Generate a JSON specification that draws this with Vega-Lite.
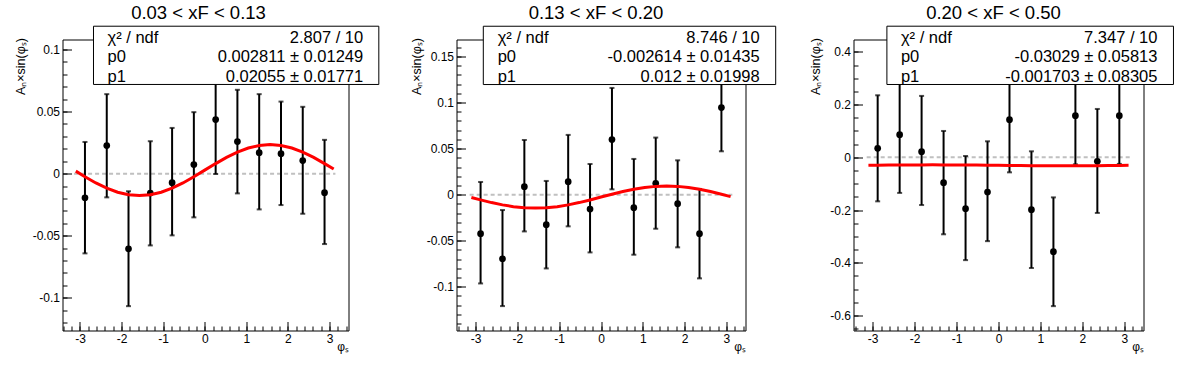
{
  "$schema": "https://vega.github.io/schema/vega-lite/v6.json",
  "background": "white",
  "padding": {"left": 13.5, "top": 3.5, "right": 5, "bottom": 5},
  "bounds": "flush",
  "spacing": 108,
  "config": {
    "font": "Liberation Sans",
    "view": {"stroke": "black", "strokeWidth": 1},
    "axis": {"domain": false, "grid": false, "labelFont": "Liberation Sans", "labelFontSize": 12, "labelColor": "black", "tickColor": "black", "titleFont": "Liberation Sans", "titleFontWeight": "normal", "titleColor": "black"},
    "title": {"font": "Liberation Sans", "fontSize": 18.5, "fontWeight": "normal", "color": "black", "anchor": "middle", "frame": "group", "baseline": "alphabetic", "offset": 3}
  },
  "datasets": {
    "p1": [
      {"phi": -2.880, "a": -0.0194, "lo": -0.0642, "hi": 0.0255},
      {"phi": -2.356, "a": 0.0226, "lo": -0.0191, "hi": 0.0640},
      {"phi": -1.833, "a": -0.0605, "lo": -0.1067, "hi": -0.0142},
      {"phi": -1.309, "a": -0.0156, "lo": -0.0578, "hi": 0.0261},
      {"phi": -0.785, "a": -0.0073, "lo": -0.0497, "hi": 0.0368},
      {"phi": -0.262, "a": 0.0073, "lo": -0.0352, "hi": 0.0495},
      {"phi": 0.262, "a": 0.0435, "lo": -0.0003, "hi": 0.0873},
      {"phi": 0.785, "a": 0.0258, "lo": -0.0159, "hi": 0.0675},
      {"phi": 1.309, "a": 0.0169, "lo": -0.0288, "hi": 0.0640},
      {"phi": 1.833, "a": 0.0161, "lo": -0.0253, "hi": 0.0580},
      {"phi": 2.356, "a": 0.0105, "lo": -0.0323, "hi": 0.0538},
      {"phi": 2.880, "a": -0.0153, "lo": -0.0567, "hi": 0.0272}
    ],
    "p2": [
      {"phi": -2.880, "a": -0.0424, "lo": -0.0964, "hi": 0.0138},
      {"phi": -2.356, "a": -0.0696, "lo": -0.1210, "hi": -0.0167},
      {"phi": -1.833, "a": 0.0087, "lo": -0.0399, "hi": 0.0594},
      {"phi": -1.309, "a": -0.0326, "lo": -0.0801, "hi": 0.0149},
      {"phi": -0.785, "a": 0.0141, "lo": -0.0344, "hi": 0.0649},
      {"phi": -0.262, "a": -0.0156, "lo": -0.0627, "hi": 0.0333},
      {"phi": 0.262, "a": 0.0598, "lo": 0.0058, "hi": 0.1159},
      {"phi": 0.785, "a": -0.0141, "lo": -0.0652, "hi": 0.0388},
      {"phi": 1.309, "a": 0.0123, "lo": -0.0370, "hi": 0.0620},
      {"phi": 1.833, "a": -0.0098, "lo": -0.0572, "hi": 0.0373},
      {"phi": 2.356, "a": -0.0424, "lo": -0.0909, "hi": 0.0062},
      {"phi": 2.880, "a": 0.0946, "lo": 0.0471, "hi": 0.1421}
    ],
    "p3": [
      {"phi": -2.880, "a": 0.0342, "lo": -0.1670, "hi": 0.2354},
      {"phi": -2.356, "a": 0.0861, "lo": -0.1350, "hi": 0.3070},
      {"phi": -1.833, "a": 0.0215, "lo": -0.1810, "hi": 0.2330},
      {"phi": -1.309, "a": -0.0962, "lo": -0.2920, "hi": 0.1000},
      {"phi": -0.785, "a": -0.1950, "lo": -0.3900, "hi": 0.0050},
      {"phi": -0.262, "a": -0.1316, "lo": -0.3180, "hi": 0.0608},
      {"phi": 0.262, "a": 0.1430, "lo": -0.0570, "hi": 0.3430},
      {"phi": 0.785, "a": -0.1987, "lo": -0.4200, "hi": 0.0228},
      {"phi": 1.309, "a": -0.3580, "lo": -0.5646, "hi": -0.1520},
      {"phi": 1.833, "a": 0.1580, "lo": -0.0266, "hi": 0.3430},
      {"phi": 2.356, "a": -0.0152, "lo": -0.2110, "hi": 0.1835},
      {"phi": 2.880, "a": 0.1580, "lo": -0.0250, "hi": 0.3410}
    ],
    "c1": [
      {"phi": -3.1, "fit": 0.0020}, {"phi": -2.88, "fit": -0.0025}, {"phi": -2.618, "fit": -0.0075}, {"phi": -2.356, "fit": -0.0117}, {"phi": -2.094, "fit": -0.0150},
      {"phi": -1.833, "fit": -0.0170}, {"phi": -1.571, "fit": -0.0177}, {"phi": -1.309, "fit": -0.0170}, {"phi": -1.047, "fit": -0.0150}, {"phi": -0.785, "fit": -0.0117},
      {"phi": -0.524, "fit": -0.0075}, {"phi": -0.262, "fit": -0.0025}, {"phi": 0, "fit": 0.0028}, {"phi": 0.262, "fit": 0.0081}, {"phi": 0.524, "fit": 0.0131},
      {"phi": 0.785, "fit": 0.0173}, {"phi": 1.047, "fit": 0.0206}, {"phi": 1.309, "fit": 0.0227}, {"phi": 1.571, "fit": 0.0234}, {"phi": 1.833, "fit": 0.0227},
      {"phi": 2.094, "fit": 0.0206}, {"phi": 2.356, "fit": 0.0173}, {"phi": 2.618, "fit": 0.0131}, {"phi": 2.88, "fit": 0.0081}, {"phi": 3.1, "fit": 0.0037}
    ],
    "c2": [
      {"phi": -3.1, "fit": -0.0031}, {"phi": -2.88, "fit": -0.0057}, {"phi": -2.618, "fit": -0.0086}, {"phi": -2.356, "fit": -0.0111}, {"phi": -2.094, "fit": -0.0130},
      {"phi": -1.833, "fit": -0.0142}, {"phi": -1.571, "fit": -0.0146}, {"phi": -1.309, "fit": -0.0142}, {"phi": -1.047, "fit": -0.0130}, {"phi": -0.785, "fit": -0.0111},
      {"phi": -0.524, "fit": -0.0086}, {"phi": -0.262, "fit": -0.0057}, {"phi": 0, "fit": -0.0026}, {"phi": 0.262, "fit": 0.0005}, {"phi": 0.524, "fit": 0.0034},
      {"phi": 0.785, "fit": 0.0059}, {"phi": 1.047, "fit": 0.0078}, {"phi": 1.309, "fit": 0.0090}, {"phi": 1.571, "fit": 0.0094}, {"phi": 1.833, "fit": 0.0090},
      {"phi": 2.094, "fit": 0.0078}, {"phi": 2.356, "fit": 0.0059}, {"phi": 2.618, "fit": 0.0034}, {"phi": 2.88, "fit": 0.0005}, {"phi": 3.1, "fit": -0.0021}
    ],
    "c3": [
      {"phi": -3.1, "fit": -0.0302}, {"phi": -2.88, "fit": -0.0299}, {"phi": -2.618, "fit": -0.0294}, {"phi": -2.356, "fit": -0.0291}, {"phi": -2.094, "fit": -0.0288},
      {"phi": -1.833, "fit": -0.0287}, {"phi": -1.571, "fit": -0.0286}, {"phi": -1.309, "fit": -0.0287}, {"phi": -1.047, "fit": -0.0288}, {"phi": -0.785, "fit": -0.0291},
      {"phi": -0.524, "fit": -0.0294}, {"phi": -0.262, "fit": -0.0299}, {"phi": 0, "fit": -0.0303}, {"phi": 0.262, "fit": -0.0307}, {"phi": 0.524, "fit": -0.0311},
      {"phi": 0.785, "fit": -0.0315}, {"phi": 1.047, "fit": -0.0318}, {"phi": 1.309, "fit": -0.0319}, {"phi": 1.571, "fit": -0.0320}, {"phi": 1.833, "fit": -0.0319},
      {"phi": 2.094, "fit": -0.0318}, {"phi": 2.356, "fit": -0.0315}, {"phi": 2.618, "fit": -0.0311}, {"phi": 2.88, "fit": -0.0307}, {"phi": 3.1, "fit": -0.0304}
    ]
  },
  "hconcat": [
    {
      "width": 286, "height": 291,
      "title": {"text": "0.03 < xF < 0.13", "dx": -7},
      "resolve": {"axis": {"x": "independent", "y": "independent"}},
      "layer": [
        {"data": {"values": [{}]}, "mark": {"type": "rule", "color": "#c0c0c0", "strokeWidth": 2, "strokeDash": [4, 3]},
         "encoding": {"x": {"datum": -3.1416, "type": "quantitative", "axis": null}, "x2": {"datum": 3.1416}, "y": {"datum": 0, "type": "quantitative", "axis": null}}},
        {"data": {"name": "p1"}, "mark": {"type": "rule", "color": "black", "strokeWidth": 2},
         "encoding": {
           "x": {"field": "phi", "type": "quantitative", "scale": {"domain": [-3.42, 3.456], "nice": false, "zero": false},
                 "axis": {"orient": "bottom", "values": [-3.4,-3.2,-3,-2.8,-2.6,-2.4,-2.2,-2,-1.8,-1.6,-1.4,-1.2,-1,-0.8,-0.6,-0.4,-0.2,0,0.2,0.4,0.6,0.8,1,1.2,1.4,1.6,1.8,2,2.2,2.4,2.6,2.8,3,3.2,3.4], "labels": false, "tickSize": -4.5, "title": null}},
           "y": {"field": "lo", "type": "quantitative", "scale": {"domain": [-0.1263, 0.108], "nice": false, "zero": false},
                 "axis": {"orient": "left", "values": [-0.12,-0.11,-0.1,-0.09,-0.08,-0.07,-0.06,-0.05,-0.04,-0.03,-0.02,-0.01,0,0.01,0.02,0.03,0.04,0.05,0.06,0.07,0.08,0.09,0.1], "labels": false, "tickSize": -4.5, "title": null}},
           "y2": {"field": "hi"}}},
        {"data": {"name": "p1"}, "mark": {"type": "tick", "orient": "horizontal", "size": 5, "thickness": 2, "color": "black"},
         "encoding": {
           "x": {"field": "phi", "type": "quantitative", "axis": {"orient": "bottom", "values": [-3,-2,-1,0,1,2,3], "labels": false, "tickSize": -9, "title": null}},
           "y": {"field": "lo", "type": "quantitative", "axis": {"orient": "left", "values": [-0.1,-0.05,0,0.05,0.1], "labels": false, "tickSize": -9, "title": null}}}},
        {"data": {"name": "p1"}, "mark": {"type": "tick", "orient": "horizontal", "size": 5, "thickness": 2, "color": "black"},
         "encoding": {"x": {"field": "phi", "type": "quantitative", "axis": null}, "y": {"field": "hi", "type": "quantitative", "axis": null}}},
        {"data": {"name": "p1"}, "mark": {"type": "point", "filled": true, "shape": "circle", "size": 45, "color": "black", "opacity": 1},
         "encoding": {
           "x": {"field": "phi", "type": "quantitative", "axis": {"orient": "bottom", "values": [-3,-2,-1,0,1,2,3], "ticks": false, "labelPadding": 3, "labelExpr": "replace(format(datum.value, '~g'), '\u2212', '-')", "title": "φₛ", "titleFontSize": 12, "titleAnchor": "end", "titleAlign": "right", "titleBaseline": "alphabetic", "titleY": 20}},
           "y": {"field": "a", "type": "quantitative", "axis": {"orient": "left", "values": [-0.1,-0.05,0,0.05,0.1], "ticks": false, "labelPadding": 3, "labelExpr": "replace(format(datum.value, '~g'), '\u2212', '-')", "title": "Aₙ×sin(φₛ)", "titleFontSize": 12.5, "titleAngle": 270, "titleX": -42, "titleY": -2, "titleAlign": "right", "titleBaseline": "middle"}}}},
        {"data": {"name": "c1"}, "mark": {"type": "line", "color": "#ff0000", "strokeWidth": 3},
         "encoding": {"x": {"field": "phi", "type": "quantitative", "axis": null}, "y": {"field": "fit", "type": "quantitative", "axis": null}}},
        {"data": {"values": [{}]}, "mark": {"type": "rect", "fill": "white", "stroke": "black", "strokeWidth": 1},
         "encoding": {"x": {"datum": -2.675, "type": "quantitative", "axis": null}, "x2": {"datum": 4.185}, "y": {"datum": 0.1187, "type": "quantitative", "axis": null}, "y2": {"datum": 0.0718}}},
        {"data": {"values": [{}]}, "mark": {"type": "text", "text": ["χ² / ndf", "p0", "p1"], "align": "left", "baseline": "alphabetic", "fontSize": 16.5, "lineHeight": 19.2, "color": "black"},
         "encoding": {"x": {"datum": -2.338, "type": "quantitative", "axis": null}, "y": {"datum": 0.105, "type": "quantitative", "axis": null}}},
        {"data": {"values": [{}]}, "mark": {"type": "text", "text": ["2.807 / 10", "0.002811 ± 0.01249", "0.02055 ± 0.01771"], "align": "right", "baseline": "alphabetic", "fontSize": 16.5, "lineHeight": 19.2, "color": "black"},
         "encoding": {"x": {"datum": 3.81, "type": "quantitative", "axis": null}, "y": {"datum": 0.105, "type": "quantitative", "axis": null}}}
      ]
    },
    {
      "width": 289, "height": 291,
      "title": {"text": "0.13 < xF < 0.20", "dx": -5},
      "resolve": {"axis": {"x": "independent", "y": "independent"}},
      "layer": [
        {"data": {"values": [{}]}, "mark": {"type": "rule", "color": "#c0c0c0", "strokeWidth": 2, "strokeDash": [4, 3]},
         "encoding": {"x": {"datum": -3.1416, "type": "quantitative", "axis": null}, "x2": {"datum": 3.1416}, "y": {"datum": 0, "type": "quantitative", "axis": null}}},
        {"data": {"name": "p2"}, "mark": {"type": "rule", "color": "black", "strokeWidth": 2},
         "encoding": {
           "x": {"field": "phi", "type": "quantitative", "scale": {"domain": [-3.456, 3.456], "nice": false, "zero": false},
                 "axis": {"orient": "bottom", "values": [-3.4,-3.2,-3,-2.8,-2.6,-2.4,-2.2,-2,-1.8,-1.6,-1.4,-1.2,-1,-0.8,-0.6,-0.4,-0.2,0,0.2,0.4,0.6,0.8,1,1.2,1.4,1.6,1.8,2,2.2,2.4,2.6,2.8,3,3.2,3.4], "labels": false, "tickSize": -4.5, "title": null}},
           "y": {"field": "lo", "type": "quantitative", "scale": {"domain": [-0.1475, 0.1685], "nice": false, "zero": false},
                 "axis": {"orient": "left", "values": [-0.14,-0.13,-0.12,-0.11,-0.1,-0.09,-0.08,-0.07,-0.06,-0.05,-0.04,-0.03,-0.02,-0.01,0,0.01,0.02,0.03,0.04,0.05,0.06,0.07,0.08,0.09,0.1,0.11,0.12,0.13,0.14,0.15,0.16], "labels": false, "tickSize": -4.5, "title": null}},
           "y2": {"field": "hi"}}},
        {"data": {"name": "p2"}, "mark": {"type": "tick", "orient": "horizontal", "size": 5, "thickness": 2, "color": "black"},
         "encoding": {
           "x": {"field": "phi", "type": "quantitative", "axis": {"orient": "bottom", "values": [-3,-2,-1,0,1,2,3], "labels": false, "tickSize": -9, "title": null}},
           "y": {"field": "lo", "type": "quantitative", "axis": {"orient": "left", "values": [-0.1,-0.05,0,0.05,0.1,0.15], "labels": false, "tickSize": -9, "title": null}}}},
        {"data": {"name": "p2"}, "mark": {"type": "tick", "orient": "horizontal", "size": 5, "thickness": 2, "color": "black"},
         "encoding": {"x": {"field": "phi", "type": "quantitative", "axis": null}, "y": {"field": "hi", "type": "quantitative", "axis": null}}},
        {"data": {"name": "p2"}, "mark": {"type": "point", "filled": true, "shape": "circle", "size": 45, "color": "black", "opacity": 1},
         "encoding": {
           "x": {"field": "phi", "type": "quantitative", "axis": {"orient": "bottom", "values": [-3,-2,-1,0,1,2,3], "ticks": false, "labelPadding": 3, "labelExpr": "replace(format(datum.value, '~g'), '\u2212', '-')", "title": "φₛ", "titleFontSize": 12, "titleAnchor": "end", "titleAlign": "right", "titleBaseline": "alphabetic", "titleY": 20}},
           "y": {"field": "a", "type": "quantitative", "axis": {"orient": "left", "values": [-0.1,-0.05,0,0.05,0.1,0.15], "ticks": false, "labelPadding": 3, "labelExpr": "replace(format(datum.value, '~g'), '\u2212', '-')", "title": "Aₙ×sin(φₛ)", "titleFontSize": 12.5, "titleAngle": 270, "titleX": -40, "titleY": -2, "titleAlign": "right", "titleBaseline": "middle"}}}},
        {"data": {"name": "c2"}, "mark": {"type": "line", "color": "#ff0000", "strokeWidth": 3},
         "encoding": {"x": {"field": "phi", "type": "quantitative", "axis": null}, "y": {"field": "fit", "type": "quantitative", "axis": null}}},
        {"data": {"values": [{}]}, "mark": {"type": "rect", "fill": "white", "stroke": "black", "strokeWidth": 1},
         "encoding": {"x": {"datum": -2.815, "type": "quantitative", "axis": null}, "x2": {"datum": 4.178}, "y": {"datum": 0.1829, "type": "quantitative", "axis": null}, "y2": {"datum": 0.1196}}},
        {"data": {"values": [{}]}, "mark": {"type": "text", "text": ["χ² / ndf", "p0", "p1"], "align": "left", "baseline": "alphabetic", "fontSize": 16.5, "lineHeight": 19.2, "color": "black"},
         "encoding": {"x": {"datum": -2.471, "type": "quantitative", "axis": null}, "y": {"datum": 0.1645, "type": "quantitative", "axis": null}}},
        {"data": {"values": [{}]}, "mark": {"type": "text", "text": ["8.746 / 10", "-0.002614 ± 0.01435", "0.012 ± 0.01998"], "align": "right", "baseline": "alphabetic", "fontSize": 16.5, "lineHeight": 19.2, "color": "black"},
         "encoding": {"x": {"datum": 3.796, "type": "quantitative", "axis": null}, "y": {"datum": 0.1645, "type": "quantitative", "axis": null}}}
      ]
    },
    {
      "width": 290, "height": 291,
      "title": {"text": "0.20 < xF < 0.50", "dx": -5},
      "resolve": {"axis": {"x": "independent", "y": "independent"}},
      "layer": [
        {"data": {"values": [{}]}, "mark": {"type": "rule", "color": "#c0c0c0", "strokeWidth": 2, "strokeDash": [4, 3]},
         "encoding": {"x": {"datum": -3.1416, "type": "quantitative", "axis": null}, "x2": {"datum": 3.1416}, "y": {"datum": 0, "type": "quantitative", "axis": null}}},
        {"data": {"name": "p3"}, "mark": {"type": "rule", "color": "black", "strokeWidth": 2},
         "encoding": {
           "x": {"field": "phi", "type": "quantitative", "scale": {"domain": [-3.456, 3.456], "nice": false, "zero": false},
                 "axis": {"orient": "bottom", "values": [-3.4,-3.2,-3,-2.8,-2.6,-2.4,-2.2,-2,-1.8,-1.6,-1.4,-1.2,-1,-0.8,-0.6,-0.4,-0.2,0,0.2,0.4,0.6,0.8,1,1.2,1.4,1.6,1.8,2,2.2,2.4,2.6,2.8,3,3.2,3.4], "labels": false, "tickSize": -4.5, "title": null}},
           "y": {"field": "lo", "type": "quantitative", "scale": {"domain": [-0.657, 0.447], "nice": false, "zero": false},
                 "axis": {"orient": "left", "values": [-0.65,-0.6,-0.55,-0.5,-0.45,-0.4,-0.35,-0.3,-0.25,-0.2,-0.15,-0.1,-0.05,0,0.05,0.1,0.15,0.2,0.25,0.3,0.35,0.4], "labels": false, "tickSize": -4.5, "title": null}},
           "y2": {"field": "hi"}}},
        {"data": {"name": "p3"}, "mark": {"type": "tick", "orient": "horizontal", "size": 5, "thickness": 2, "color": "black"},
         "encoding": {
           "x": {"field": "phi", "type": "quantitative", "axis": {"orient": "bottom", "values": [-3,-2,-1,0,1,2,3], "labels": false, "tickSize": -9, "title": null}},
           "y": {"field": "lo", "type": "quantitative", "axis": {"orient": "left", "values": [-0.6,-0.4,-0.2,0,0.2,0.4], "labels": false, "tickSize": -9, "title": null}}}},
        {"data": {"name": "p3"}, "mark": {"type": "tick", "orient": "horizontal", "size": 5, "thickness": 2, "color": "black"},
         "encoding": {"x": {"field": "phi", "type": "quantitative", "axis": null}, "y": {"field": "hi", "type": "quantitative", "axis": null}}},
        {"data": {"name": "p3"}, "mark": {"type": "point", "filled": true, "shape": "circle", "size": 45, "color": "black", "opacity": 1},
         "encoding": {
           "x": {"field": "phi", "type": "quantitative", "axis": {"orient": "bottom", "values": [-3,-2,-1,0,1,2,3], "ticks": false, "labelPadding": 3, "labelExpr": "replace(format(datum.value, '~g'), '\u2212', '-')", "title": "φₛ", "titleFontSize": 12, "titleAnchor": "end", "titleAlign": "right", "titleBaseline": "alphabetic", "titleY": 20}},
           "y": {"field": "a", "type": "quantitative", "axis": {"orient": "left", "values": [-0.6,-0.4,-0.2,0,0.2,0.4], "ticks": false, "labelPadding": 3, "labelExpr": "replace(format(datum.value, '~g'), '\u2212', '-')", "title": "Aₙ×sin(φₛ)", "titleFontSize": 12.5, "titleAngle": 270, "titleX": -38, "titleY": -2, "titleAlign": "right", "titleBaseline": "middle"}}}},
        {"data": {"name": "c3"}, "mark": {"type": "line", "color": "#ff0000", "strokeWidth": 3},
         "encoding": {"x": {"field": "phi", "type": "quantitative", "axis": null}, "y": {"field": "fit", "type": "quantitative", "axis": null}}},
        {"data": {"values": [{}]}, "mark": {"type": "rect", "fill": "white", "stroke": "black", "strokeWidth": 1},
         "encoding": {"x": {"datum": -2.66, "type": "quantitative", "axis": null}, "x2": {"datum": 4.17}, "y": {"datum": 0.4975, "type": "quantitative", "axis": null}, "y2": {"datum": 0.2763}}},
        {"data": {"values": [{}]}, "mark": {"type": "text", "text": ["χ² / ndf", "p0", "p1"], "align": "left", "baseline": "alphabetic", "fontSize": 16.5, "lineHeight": 19.2, "color": "black"},
         "encoding": {"x": {"datum": -2.326, "type": "quantitative", "axis": null}, "y": {"datum": 0.433, "type": "quantitative", "axis": null}}},
        {"data": {"values": [{}]}, "mark": {"type": "text", "text": ["7.347 / 10", "-0.03029 ± 0.05813", "-0.001703 ± 0.08305"], "align": "right", "baseline": "alphabetic", "fontSize": 16.5, "lineHeight": 19.2, "color": "black"},
         "encoding": {"x": {"datum": 3.789, "type": "quantitative", "axis": null}, "y": {"datum": 0.433, "type": "quantitative", "axis": null}}}
      ]
    }
  ]
}
